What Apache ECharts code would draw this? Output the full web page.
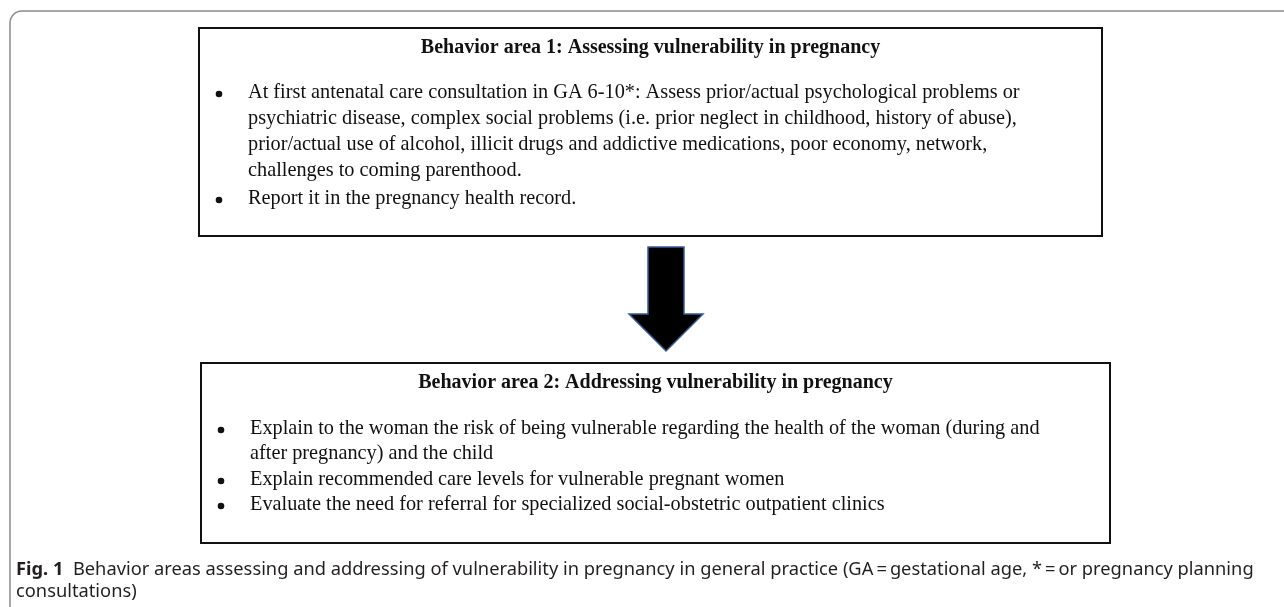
<!DOCTYPE html>
<html lang="en">
<head>
    <meta charset="UTF-8">
    <title>Fig. 1</title>
    <script type="text/javascript" src="https://cdn.jsdelivr.net/npm/echarts@6/dist/echarts.min.js"></script>
    <style>
        html, body { margin: 0; padding: 0; background: #fff; }
        #main { width: 1284px; height: 607px; }
    </style>
</head>
<body>
<div id="main"></div>
<script type="text/javascript">
    // texts of the two boxes, one entry per printed line, bullet=true starts a new item
    var titles = [
        'Behavior area 1: Assessing vulnerability in pregnancy',
        'Behavior area 2: Addressing vulnerability in pregnancy'
    ];
    var box1Lines = [
        ['At first antenatal care consultation in GA 6-10*: Assess prior/actual psychological problems or', true],
        ['psychiatric disease, complex social problems (i.e. prior neglect in childhood, history of abuse),', false],
        ['prior/actual use of alcohol, illicit drugs and addictive medications, poor economy, network,', false],
        ['challenges to coming parenthood.', false],
        ['Report it in the pregnancy health record.', true]
    ];
    var box2Lines = [
        ['Explain to the woman the risk of being vulnerable regarding the health of the woman (during and', true],
        ['after pregnancy) and the child', false],
        ['Explain recommended care levels for vulnerable pregnant women', true],
        ['Evaluate the need for referral for specialized social-obstetric outpatient clinics', true]
    ];
    var captionLines = [
        'Behavior areas assessing and addressing of vulnerability in pregnancy in general practice (GA\u2009=\u2009gestational age, *\u2009=\u2009or pregnancy planning',
        'consultations)'
    ];

    var serif = '"Liberation Serif", "Times New Roman", serif';
    var sans = '"Noto Sans", "Open Sans", sans-serif';

    function boxElements(x, y, w, h, title, lines, lineYs) {
        var els = [];
        els.push({
            type: 'rect',
            shape: {x: x, y: y, width: w, height: h},
            style: {fill: '#fff', stroke: '#111', lineWidth: 2}
        });
        els.push({
            type: 'text',
            style: {
                x: x + w / 2, y: y + 20, text: title,
                font: 'bold 20px ' + serif, fill: '#111',
                textAlign: 'center', textVerticalAlign: 'middle'
            }
        });
        for (var i = 0; i < lines.length; i++) {
            var ly = lineYs[i];
            if (lines[i][1]) {
                els.push({
                    type: 'circle',
                    shape: {cx: x + 20, cy: ly + 1, r: 3.3},
                    style: {fill: '#111'}
                });
            }
            els.push({
                type: 'text',
                style: {
                    x: x + 49, y: ly, text: lines[i][0],
                    font: '20.3px ' + serif, fill: '#111',
                    textAlign: 'left', textVerticalAlign: 'middle'
                }
            });
        }
        return els;
    }

    var chart = echarts.init(document.getElementById('main'));

    var elements = [];
    // outer panel frame (only top and left edges are inside the picture)
    elements.push({
        type: 'rect',
        shape: {x: 10, y: 11, width: 1320, height: 640, r: 12},
        style: {fill: 'none', stroke: '#8a8a8a', lineWidth: 1.5}
    });

    elements = elements.concat(boxElements(199, 28, 903, 208, titles[0], box1Lines, [93, 119, 145, 171, 199]));
    elements = elements.concat(boxElements(201, 363, 909, 180, titles[1], box2Lines, [429, 454, 480, 505]));

    // down arrow
    elements.push({
        type: 'polygon',
        shape: {
            points: [[648, 247], [684, 247], [684, 314], [703, 314], [666, 351], [629, 314], [648, 314]]
        },
        style: {fill: '#000', stroke: '#3a5a96', lineWidth: 1.5}
    });

    // caption
    elements.push({
        type: 'text',
        style: {
            x: 16, y: 570,
            text: '{b|Fig. 1}  ' + captionLines[0],
            font: '18.3px ' + sans, fill: '#231f20',
            textVerticalAlign: 'middle',
            rich: {b: {fontWeight: 'bold', fontFamily: sans, fontSize: 18.3, fill: '#231f20'}}
        }
    });
    elements.push({
        type: 'text',
        style: {
            x: 16, y: 592, text: captionLines[1],
            font: '18.3px ' + sans, fill: '#231f20',
            textVerticalAlign: 'middle'
        }
    });

    chart.setOption({
        backgroundColor: '#fff',
        animation: false,
        graphic: {elements: elements}
    });
</script>
</body>
</html>
